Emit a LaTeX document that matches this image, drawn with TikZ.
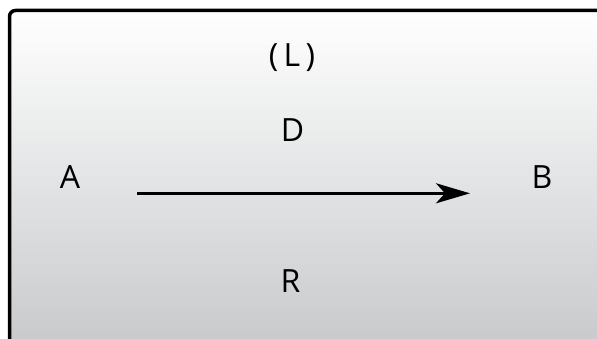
\documentclass[tikz,border=0pt]{standalone}
\usepackage{fontspec}
\setmainfont{Open Sans}
\usetikzlibrary{arrows.meta,positioning}
\definecolor{panelbot}{RGB}{199,201,203}

\begin{document}
\begin{tikzpicture}[
  x=1bp, y=1bp,
  tag/.style={font=\fontsize{32bp}{38bp}\selectfont, inner sep=0pt},
  flow/.style={-{Stealth[length=34bp, width=20bp, inset=9bp]}, line width=3bp},
]
  \useasboundingbox (0,0) rectangle (597,338);
  \clip (0,0) rectangle (597,338);

  % Panel, runs off the right and bottom edges
  \draw[line width=3.5bp, rounded corners=6bp, top color=white, bottom color=panelbot]
    (9.5,327.5) rectangle (610,-10);

  % Labels
  \node[tag] (src) at (70,160.5) {A};
  \node[tag] (dst) at (542,160.5) {B};
  \node[tag] (top) at (292,280) {(\,L\,)};
  \node[tag] (mid) at (292.5,208) {D};
  \node[tag] (low) at (290.5,56.5) {R};

  % Arrow between A and B
  \coordinate (tail) at (137,144.7);
  \coordinate (head) at (470,144.7);
  \draw[flow] (tail) -- (head);
\end{tikzpicture}
\end{document}
